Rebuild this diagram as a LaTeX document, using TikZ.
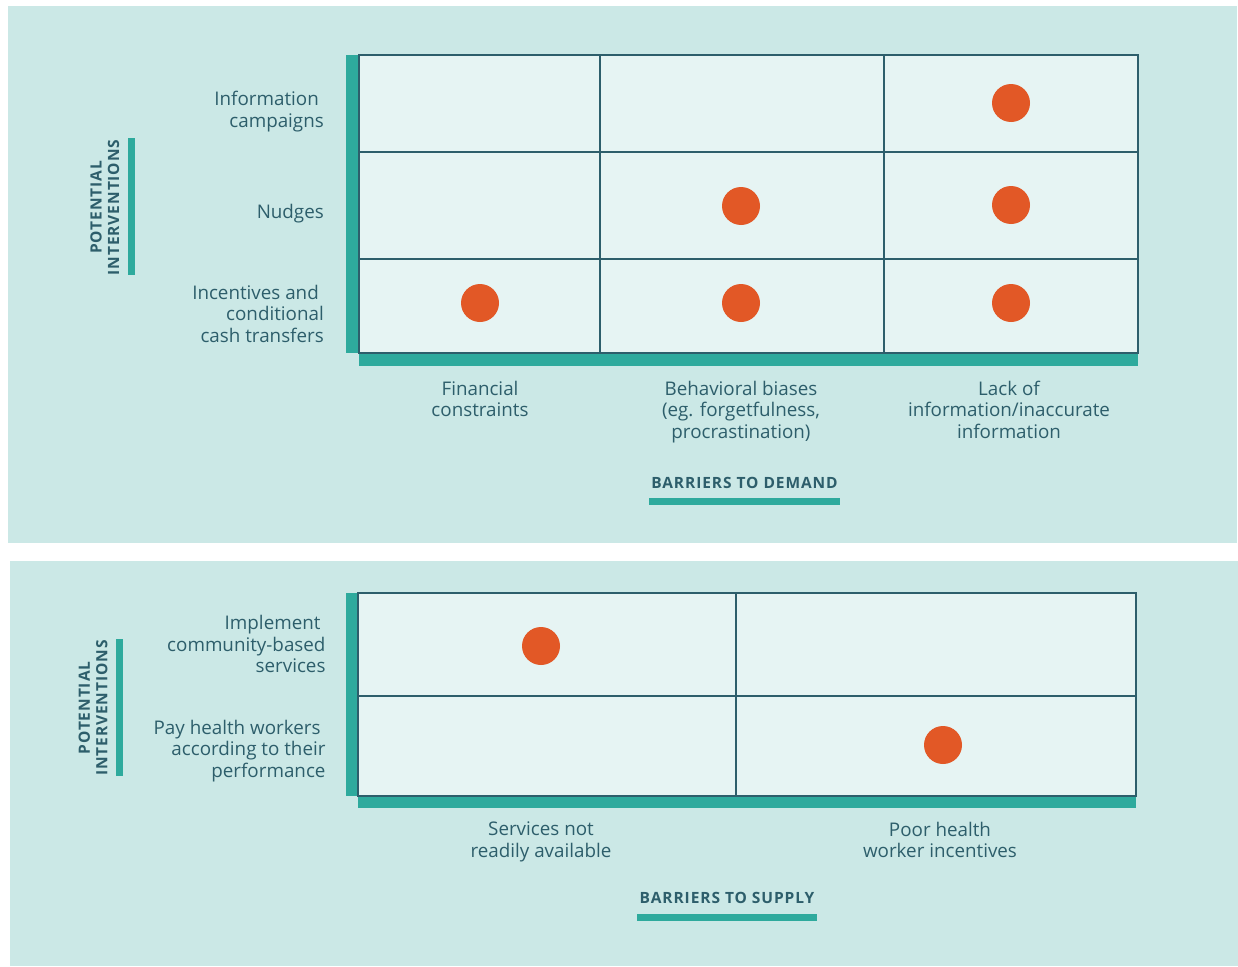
\documentclass[tikz,border=0pt]{standalone}
\usepackage{fontspec}
\setmainfont{Open Sans}
\newfontfamily\capsfont[LetterSpace=6]{Open Sans}
\usetikzlibrary{positioning}
\definecolor{panel}{HTML}{CBE8E6}
\definecolor{cellfill}{HTML}{E6F4F3}
\definecolor{ink}{HTML}{2D5E6B}
\definecolor{bar}{HTML}{2EAA9D}
\definecolor{dotred}{HTML}{E25826}
\newcommand\trail{\hspace*{5pt}}

\begin{document}
\begin{tikzpicture}[x=1pt,y=-1pt,
  body/.style={font=\fontsize{18.8}{21.5}\selectfont, text=ink, inner sep=0pt},
  caps/.style={font=\capsfont\bfseries\fontsize{15.5}{17.5}\selectfont, text=ink, inner sep=0pt},
  cell/.style={draw=ink, line width=1.6pt},
  dot/.style={circle, fill=dotred, minimum size=38pt, inner sep=0pt}]
 \useasboundingbox (0,0) rectangle (1238,966);

 % demand panel
 \fill[panel] (8,6) rectangle (1237,543);
 \fill[bar] (346,55) rectangle (359,353);
 \fill[bar] (359,353) rectangle (1138,366);
 \coordinate (ta) at (359,55);
 \coordinate (tb) at (1138,353);
 \filldraw[cell, fill=cellfill] (ta) rectangle (tb);
 \draw[cell] (359,152) -- (1138,152);
 \draw[cell] (359,259) -- (1138,259);
 \draw[cell] (600,55) -- (600,353);
 \draw[cell] (884,55) -- (884,353);

 \node[dot] (d13) at (1011,103) {};
 \node[dot] (d22) at (741,206) {};
 \node[dot] (d23) at (1011,205) {};
 \node[dot] (d31) at (480,303) {};
 \node[dot] (d32) at (741,303) {};
 \node[dot] (d33) at (1011,303) {};

 \node[body, anchor=east, align=right] (info) at (324,111.6) {Information\trail\\campaigns};
 \node[body, anchor=east, align=right] (nudge) at (324,214.1) {Nudges};
 \node[body, anchor=east, align=right] (incent) at (324,313.9) {Incentives and\trail\\conditional\trail\\cash transfers};

 \node[body, anchor=north, align=center] (fin) at (480,380.7) {Financial\\constraints};
 \node[body, anchor=north, align=center] (behav) at (741,380.7) {Behavioral biases\\(eg. forgetfulness,\\procrastination)};
 \node[body, anchor=north, align=center] (lack) at (1009,380.7) {Lack of\\information/inaccurate\\information};

 \node[caps, anchor=base] (demand) at (744.5,488) {BARRIERS TO DEMAND};
 \fill[bar] (649,498) rectangle (840,505);
 \node[caps, rotate=90, align=center] (potd) at (104.8,207.5) {POTENTIAL\\INTERVENTIONS};
 \fill[bar] (128,138) rectangle (135,275);

 % supply panel
 \fill[panel] (10,561) rectangle (1238,966);
 \fill[bar] (346,593) rectangle (358,796);
 \fill[bar] (358,796) rectangle (1136,808);
 \coordinate (sa) at (358,593);
 \coordinate (sb) at (1136,796);
 \filldraw[cell, fill=cellfill] (sa) rectangle (sb);
 \draw[cell] (358,696) -- (1136,696);
 \draw[cell] (736,593) -- (736,796);

 \node[dot] (s11) at (541,646) {};
 \node[dot] (s22) at (943,745) {};

 \node[body, anchor=east, align=right] (impl) at (325.7,644.3) {Implement\trail\\community-based\trail\\services};
 \node[body, anchor=east, align=right] (pay) at (325.7,751) {Pay health workers\trail\\according to their\trail\\performance};

 \node[body, anchor=north, align=center] (serv) at (541,821.8) {Services not\\readily available};
 \node[body, anchor=north, align=center] (poor) at (940,821.8) {Poor health\\worker incentives};

 \node[caps, anchor=base] (supply) at (727,903.3) {BARRIERS TO SUPPLY};
 \fill[bar] (637,914) rectangle (817,921);
 \node[caps, rotate=90, align=center] (pots) at (93,708) {POTENTIAL\\INTERVENTIONS};
 \fill[bar] (116,639) rectangle (123,776);
\end{tikzpicture}
\end{document}
